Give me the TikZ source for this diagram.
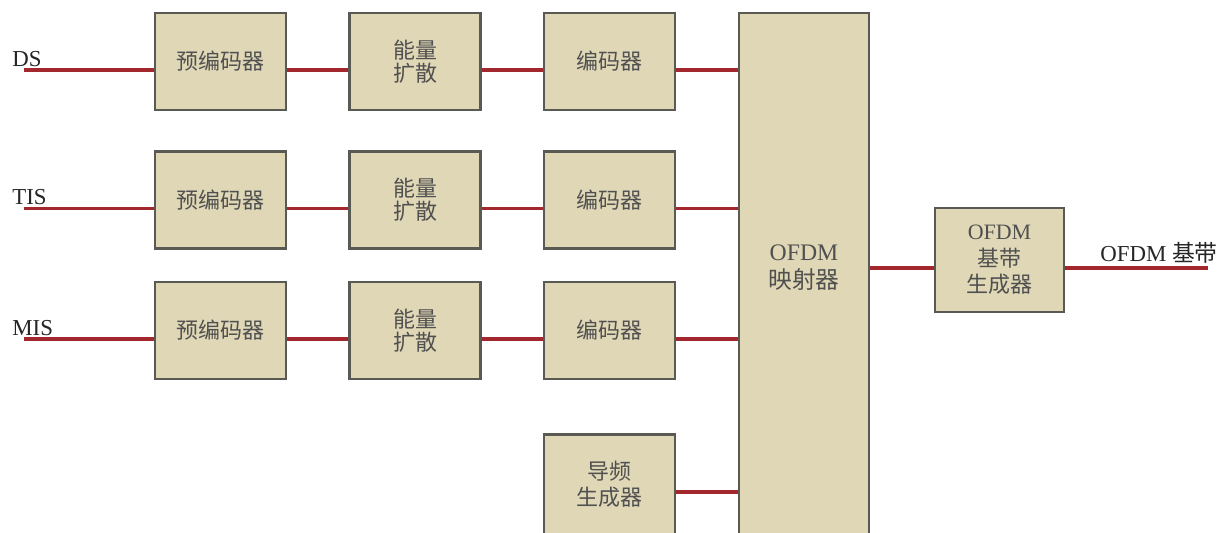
\documentclass[tikz,border=0pt]{standalone}
\usepackage{fontspec}
\setmainfont{Liberation Serif}
\newfontfamily\cjk{Noto Sans CJK SC}
\usetikzlibrary{calc}

\definecolor{boxfill}{HTML}{DFD7B6}
\definecolor{boxline}{HTML}{5A5A55}
\definecolor{wirered}{HTML}{A3282E}
\definecolor{boxtext}{HTML}{505050}
\newcommand{\zh}[1]{{\cjk #1}}

\tikzset{
  box/.style={draw=boxline, line width=1.2pt, fill=boxfill, text=boxtext, align=center,
    minimum width=2.62cm, minimum height=1.94cm, inner sep=0pt,
    font=\fontsize{12.5}{15}\selectfont},
  wire/.style={wirered, line width=2pt},
  lbl/.style={anchor=base west, inner sep=0pt, font=\fontsize{13}{15}\selectfont, text=black!85}
}

\begin{document}
\begin{tikzpicture}
\useasboundingbox (0,0) rectangle (24.62,10.64);

% three input branches
\foreach \r/\y/\name in {1/9.41/DS, 2/6.64/TIS, 3/4.03/MIS}{
  \node[box] (pre\r) at (4.41,\y) {\zh{预编码器}};
  \node[box, font=\fontsize{12.5}{13}\selectfont] (spread\r) at (8.30,\y) {\zh{能量}\\\zh{扩散}};
  \node[box] (enc\r) at (12.19,\y) {\zh{编码器}};
  \coordinate (in\r) at (0.48,\y-0.17);
  \node[lbl] (lab\r) at ([xshift=-0.24cm, yshift=0.08cm]in\r) {\name};
}

\node[box, minimum width=2.6cm, minimum height=10.5cm] (mapper) at (16.08,5.13) {};
\node[font=\fontsize{13.5}{16}\selectfont, text=boxtext, align=center] (maptext) at ([yshift=0.16cm]mapper.center) {OFDM\\\zh{映射器}};
\node[box, minimum height=2.0cm] (pilot) at (12.19,0.95) {\zh{导频}\\\zh{生成器}};
\node[box, minimum width=2.58cm, minimum height=2.08cm] (base) at (19.99,5.44) {OFDM\\\zh{基带}\\\zh{生成器}};

\foreach \r in {1,2,3}{
  \draw[wire] (in\r) -- (in\r -| pre\r.west);
  \draw[wire] ([yshift=-0.17cm]pre\r.east) coordinate (a\r) -- (a\r -| spread\r.west);
  \draw[wire] ([yshift=-0.17cm]spread\r.east) coordinate (b\r) -- (b\r -| enc\r.west);
  \draw[wire] ([yshift=-0.17cm]enc\r.east) coordinate (c\r) -- (c\r -| mapper.west);
}
\draw[wire] ([yshift=-0.15cm]pilot.east) coordinate (p) -- (p -| mapper.west);
\draw[wire] ([yshift=-0.16cm]base.west) coordinate (bw) -- (bw -| mapper.east);
\coordinate (out) at (24.16,5.28);
\draw[wire] (out -| base.east) -- (out);
\node[lbl] (outlab) at (22.0,5.42) {OFDM \zh{基带}};
\end{tikzpicture}
\end{document}
